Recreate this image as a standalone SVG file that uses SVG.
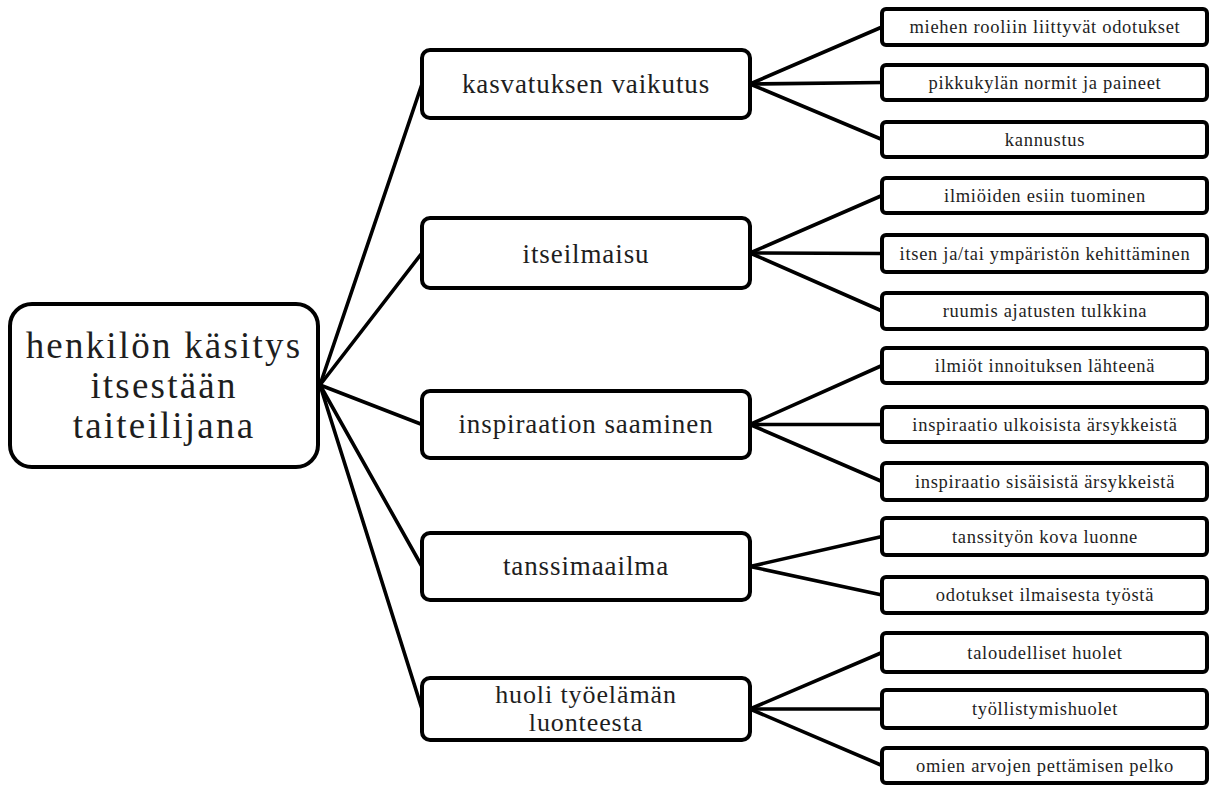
<svg xmlns="http://www.w3.org/2000/svg" width="1211" height="785" viewBox="0 0 1211 785">
<style>
.box{fill:#fff;stroke:#000;stroke-width:4}
.t{font-family:'Liberation Serif',serif;fill:#1e1e1e;text-anchor:middle}
.root{font-size:37px;letter-spacing:2.2px}
.mid{font-size:27px;letter-spacing:0.9px}
.mid2{font-size:26px;letter-spacing:0.9px}
.leaf{font-size:18.5px;letter-spacing:0.7px}
.c line{stroke:#000;stroke-width:3.6;stroke-linecap:round}
</style>
<rect width="1211" height="785" fill="#fff"/>
<g id="connectors" class="c">
<line x1="320" y1="385" x2="422" y2="84"/>
<line x1="320" y1="385" x2="422" y2="253"/>
<line x1="320" y1="385" x2="422" y2="424.5"/>
<line x1="320" y1="385" x2="422" y2="566.5"/>
<line x1="320" y1="385" x2="422" y2="709"/>
<line x1="750" y1="84" x2="882" y2="27"/>
<line x1="750" y1="84" x2="882" y2="82.5"/>
<line x1="750" y1="84" x2="882" y2="139.5"/>
<line x1="750" y1="253" x2="882" y2="195.5"/>
<line x1="750" y1="253" x2="882" y2="253.5"/>
<line x1="750" y1="253" x2="882" y2="311"/>
<line x1="750" y1="424.5" x2="882" y2="365.5"/>
<line x1="750" y1="424.5" x2="882" y2="424.5"/>
<line x1="750" y1="424.5" x2="882" y2="481.5"/>
<line x1="750" y1="566.5" x2="882" y2="536.5"/>
<line x1="750" y1="566.5" x2="882" y2="595"/>
<line x1="750" y1="709" x2="882" y2="652.5"/>
<line x1="750" y1="709" x2="882" y2="709"/>
<line x1="750" y1="709" x2="882" y2="765.5"/>
</g>
<g id="root">
<rect class="box" x="10" y="304" width="308" height="163" rx="22"/>
<text class="t root" x="164" y="358">henkilön käsitys</text>
<text class="t root" x="164" y="398">itsestään</text>
<text class="t root" x="164" y="438">taiteilijana</text>
</g>
<g id="n1"><rect class="box" x="422" y="50" width="328" height="68" rx="8"/><text class="t mid" x="586" y="93">kasvatuksen vaikutus</text></g>
<g id="n2"><rect class="box" x="422" y="218" width="328" height="70" rx="8"/><text class="t mid" x="586" y="263">itseilmaisu</text></g>
<g id="n3"><rect class="box" x="422" y="391" width="328" height="67" rx="8"/><text class="t mid" x="586" y="433">inspiraation saaminen</text></g>
<g id="n4"><rect class="box" x="422" y="533" width="328" height="67" rx="8"/><text class="t mid" x="586" y="575">tanssimaailma</text></g>
<g id="n5"><rect class="box" x="422" y="678" width="328" height="62" rx="8"/><text class="t mid2" x="586" y="703">huoli työelämän</text><text class="t mid2" x="586" y="731">luonteesta</text></g>
<g id="l1"><rect class="box" x="882" y="9" width="325" height="36" rx="4"/><text class="t leaf" x="1045" y="33">miehen rooliin liittyvät odotukset</text></g>
<g id="l2"><rect class="box" x="882" y="65" width="325" height="35" rx="4"/><text class="t leaf" x="1045" y="88.5">pikkukylän normit ja paineet</text></g>
<g id="l3"><rect class="box" x="882" y="122" width="325" height="35" rx="4"/><text class="t leaf" x="1045" y="145.5">kannustus</text></g>
<g id="l4"><rect class="box" x="882" y="178" width="325" height="35" rx="4"/><text class="t leaf" x="1045" y="201.5">ilmiöiden esiin tuominen</text></g>
<g id="l5"><rect class="box" x="882" y="235" width="325" height="37" rx="4"/><text class="t leaf" x="1045" y="259.5">itsen ja/tai ympäristön kehittäminen</text></g>
<g id="l6"><rect class="box" x="882" y="293" width="325" height="36" rx="4"/><text class="t leaf" x="1045" y="317">ruumis ajatusten tulkkina</text></g>
<g id="l7"><rect class="box" x="882" y="348" width="325" height="35" rx="4"/><text class="t leaf" x="1045" y="371.5">ilmiöt innoituksen lähteenä</text></g>
<g id="l8"><rect class="box" x="882" y="407" width="325" height="35" rx="4"/><text class="t leaf" x="1045" y="430.5">inspiraatio ulkoisista ärsykkeistä</text></g>
<g id="l9"><rect class="box" x="882" y="463" width="325" height="37" rx="4"/><text class="t leaf" x="1045" y="487.5">inspiraatio sisäisistä ärsykkeistä</text></g>
<g id="l10"><rect class="box" x="882" y="518" width="325" height="37" rx="4"/><text class="t leaf" x="1045" y="542.5">tanssityön kova luonne</text></g>
<g id="l11"><rect class="box" x="882" y="577" width="325" height="36" rx="4"/><text class="t leaf" x="1045" y="601">odotukset ilmaisesta työstä</text></g>
<g id="l12"><rect class="box" x="882" y="633" width="325" height="39" rx="4"/><text class="t leaf" x="1045" y="658.5">taloudelliset huolet</text></g>
<g id="l13"><rect class="box" x="882" y="690" width="325" height="38" rx="4"/><text class="t leaf" x="1045" y="715">työllistymishuolet</text></g>
<g id="l14"><rect class="box" x="882" y="748" width="325" height="35" rx="4"/><text class="t leaf" x="1045" y="771.5">omien arvojen pettämisen pelko</text></g>
</svg>
